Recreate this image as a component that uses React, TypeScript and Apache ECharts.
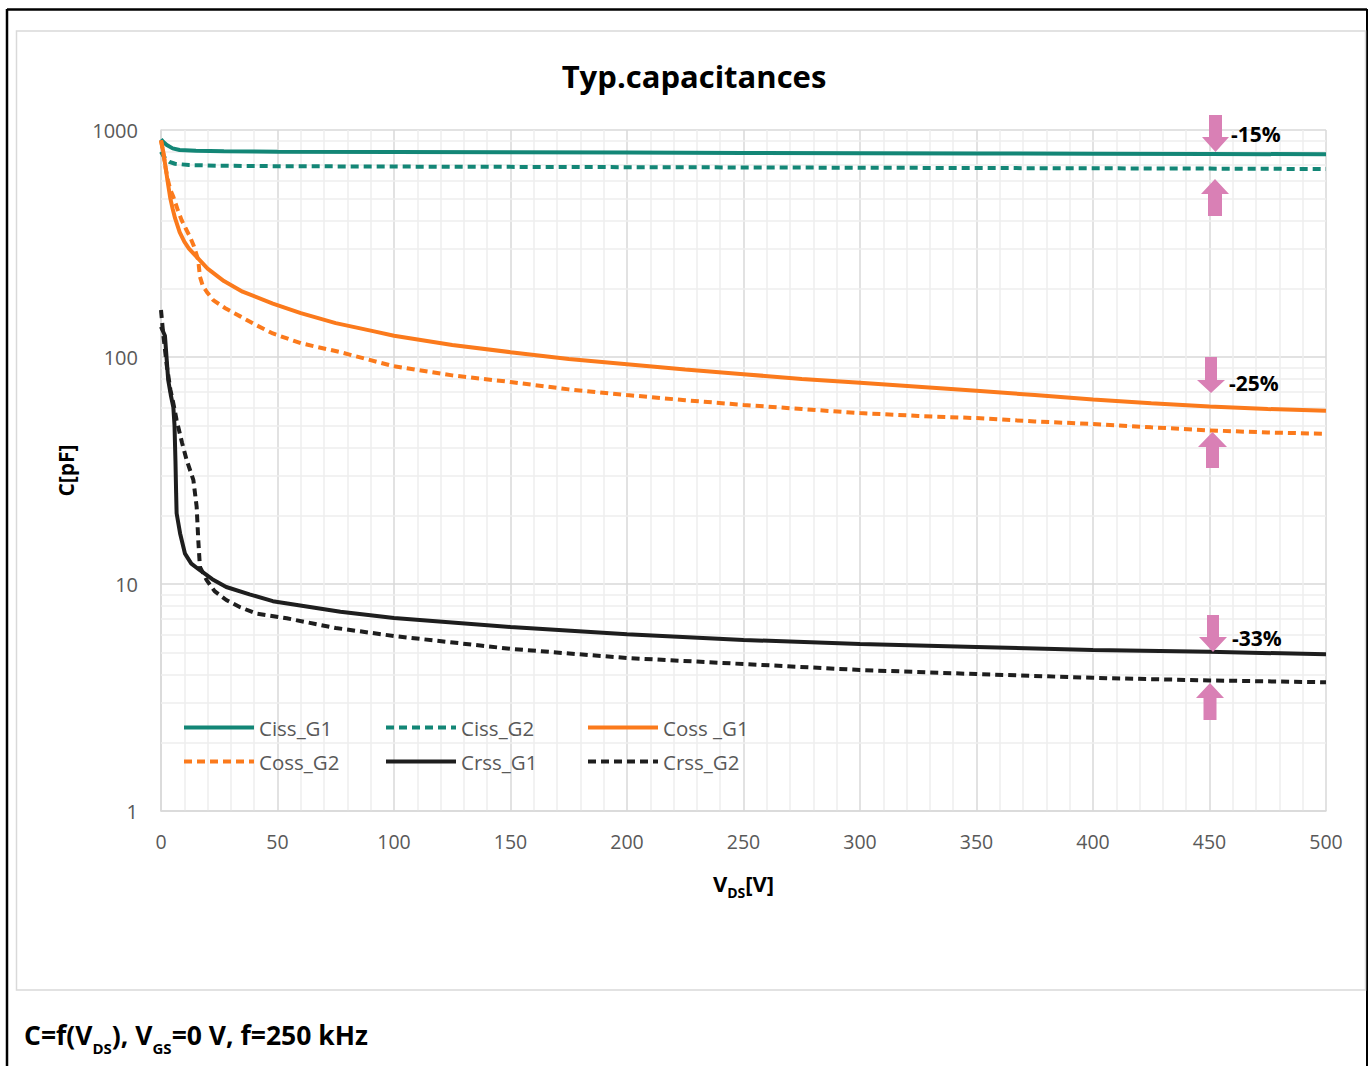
import React, { useEffect, useRef } from "react";
import * as echarts from "echarts";

// ---- data ----
const CISS_G1_V = [0, 1, 2.5, 5, 8, 15, 27, 50, 100, 150, 200, 250, 300, 350, 400, 450, 500];
const CISS_G1_C = [910, 885, 858, 830, 816, 810, 806, 803, 800, 797, 795, 792, 790, 788, 786, 784, 782];

const CISS_G2_V = [0, 1, 2, 3.6, 6, 12, 25, 48, 100, 150, 200, 250, 300, 350, 400, 450, 500];
const CISS_G2_C = [802, 770, 745, 724, 710, 701, 696, 693, 690, 688, 686, 684, 682, 680, 678, 676, 673];

const COSS_G1_V = [0, 1, 2, 3, 4, 5, 6, 8, 10, 12, 15, 20, 27, 35, 48, 60, 75, 91, 100, 125, 150, 175, 200, 225, 250, 275, 300, 325, 350, 375, 400, 425, 450, 475, 500];
const COSS_G1_C = [900, 800, 680, 580, 500, 450, 410, 355, 322, 300, 278, 245, 216, 194, 172, 156, 141, 130, 124, 113, 105, 98, 93, 88, 84, 80, 77, 74, 71, 68, 65, 62.5, 60.5, 59, 58];

const COSS_G2_V = [0, 1, 2, 3, 4, 5.3, 7, 8.8, 10.5, 12.4, 14, 16, 16.7, 18, 19.6, 22.4, 28, 34, 41, 48, 60, 77, 100, 125, 150, 175, 200, 225, 250, 275, 300, 325, 350, 375, 400, 425, 450, 475, 500];
const COSS_G2_C = [900, 790, 680, 600, 545, 508, 450, 402, 370, 339, 310, 267, 226, 205, 194, 178, 163, 151, 138, 127, 115, 105, 91, 83, 77.6, 72, 68, 64.5, 61.5, 59, 56.6, 55, 53.8, 52, 50.7, 49, 47.5, 46.5, 45.9];

const CRSS_G1_V = [0, 1.7, 3.1, 4.2, 5.3, 5.8, 6.2, 6.5, 6.7, 8.2, 10.3, 13, 16.7, 22, 28, 38, 48, 77, 100, 150, 200, 250, 300, 350, 400, 450, 500];
const CRSS_G1_C = [136, 124, 79, 68, 60, 50, 35, 25, 20.5, 16.7, 13.6, 12.3, 11.5, 10.5, 9.7, 9.0, 8.4, 7.55, 7.08, 6.47, 6.0, 5.67, 5.44, 5.28, 5.12, 5.03, 4.9];

const CRSS_G2_V = [0, 1, 2.4, 4, 5.3, 6.7, 9, 11, 13.9, 15.3, 16, 16.7, 19.6, 23, 28, 34, 41, 54, 75, 100, 150, 200, 250, 300, 350, 400, 450, 500];
const CRSS_G2_C = [161, 125, 93, 72, 62.5, 52.7, 42, 35.2, 28.7, 21.9, 15.6, 11.9, 10.4, 9.3, 8.5, 7.9, 7.4, 7.06, 6.4, 5.9, 5.18, 4.72, 4.44, 4.18, 4.01, 3.86, 3.76, 3.69];

const X_TICKS_INTERVAL = 50;
const Y_MINOR = [2, 3, 4, 5, 6, 7, 8, 9, 20, 30, 40, 50, 60, 70, 80, 90, 200, 300, 400, 500, 600, 700, 800, 900];

const NAMES = ["Ciss_G1", "Ciss_G2", "Coss _G1", "Coss_G2", "Crss_G1", "Crss_G2"];

const TEAL = "#138676";
const ORANGE = "#FB7A1C";
const BLACK = "#1E1E1E";
const PINK = "#D980B5";
const FONT = "'Open Sans', 'Noto Sans', sans-serif";

const zip = (xs: number[], ys: number[]) => xs.map((x, i) => [x, ys[i]]);

function downArrow(cx: number, top: number, base: number, tip: number, sw: number, hw: number) {
  return {
    type: "polygon",
    shape: {
      points: [
        [cx - sw / 2, top], [cx + sw / 2, top], [cx + sw / 2, base], [cx + hw / 2, base],
        [cx, tip], [cx - hw / 2, base], [cx - sw / 2, base],
      ],
    },
    style: { fill: PINK },
    z: 100,
  };
}
function upArrow(cx: number, tip: number, base: number, bottom: number, sw: number, hw: number) {
  return {
    type: "polygon",
    shape: {
      points: [
        [cx, tip], [cx + hw / 2, base], [cx + sw / 2, base], [cx + sw / 2, bottom],
        [cx - sw / 2, bottom], [cx - sw / 2, base], [cx - hw / 2, base],
      ],
    },
    style: { fill: PINK },
    z: 100,
  };
}
function pctText(x: number, y: number, t: string) {
  return {
    type: "text",
    x, y,
    style: { text: t, fill: "#000", font: `bold 21px ${FONT}`, textVerticalAlign: "middle", textAlign: "left" },
    z: 100,
  };
}

export default function App() {
  const ref = useRef<HTMLDivElement>(null);
  useEffect(() => {
    if (!ref.current) return;
    const chart = echarts.init(ref.current, undefined, { renderer: "svg" });

    const mk = (name: string, data: number[][], color: string, dashed: boolean) => ({
      name,
      type: "line",
      data,
      symbol: "none",
      showSymbol: false,
      smooth: false,
      z: 3,
      lineStyle: { color, width: 4, type: dashed ? [8, 5] : "solid" },
      itemStyle: { color },
    });

    const legendPos = [
      [182, 717], [384, 717], [586, 717],
      [182, 751], [384, 751], [586, 751],
    ];

    chart.setOption({
      animation: false,
      backgroundColor: "#fff",
      grid: { left: 161, right: 44, top: 130, bottom: 255, containLabel: false },
      legend: NAMES.map((n, i) => ({
        data: [n],
        left: legendPos[i][0],
        top: legendPos[i][1],
        padding: 0,
        itemWidth: 70,
        itemHeight: 14,
        selectedMode: false,
        itemStyle: { opacity: 0 },
        lineStyle: { width: 4 },
        textStyle: { fontSize: 20.5, color: "#595959", fontFamily: FONT },
      })),
      xAxis: {
        type: "value",
        min: 0,
        max: 500,
        interval: X_TICKS_INTERVAL,
        name: "{b|V}{s|DS}{b|[V]}",
        nameLocation: "middle",
        nameGap: 56,
        nameTextStyle: {
          rich: {
            b: { fontSize: 22, fontWeight: "bold", color: "#000", fontFamily: FONT },
            s: { fontSize: 14, fontWeight: "bold", color: "#000", fontFamily: FONT, padding: [18, 0, 0, 0] },
          },
        },
        axisLine: { show: true, lineStyle: { color: "#d9d9d9", width: 1.5 } },
        axisTick: { show: false },
        axisLabel: { fontSize: 19.5, color: "#595959", margin: 20, fontFamily: FONT },
        splitLine: { show: true, lineStyle: { color: "#d9d9d9", width: 1.5 } },
        minorTick: { show: false, splitNumber: 5 },
        minorSplitLine: { show: true, lineStyle: { color: "#eeeeee", width: 1.5 } },
      },
      yAxis: {
        type: "log",
        logBase: 10,
        min: 1,
        max: 1000,
        name: "C[pF]",
        nameLocation: "middle",
        nameGap: 85,
        nameTextStyle: { fontSize: 21, fontWeight: "bold", color: "#000", fontFamily: FONT },
        axisLine: { show: true, lineStyle: { color: "#d9d9d9", width: 1.5 } },
        axisTick: { show: false },
        axisLabel: { fontSize: 20, color: "#595959", margin: 23, fontFamily: FONT, formatter: (v: number) => String(Math.round(v)) },
        splitLine: { show: true, lineStyle: { color: "#d9d9d9", width: 1.5 } },
      },
      series: [
        {
          name: "minor",
          type: "line",
          data: [],
          z: 1,
          silent: true,
          markLine: {
            silent: true,
            z: 1,
            symbol: ["none", "none"],
            label: { show: false },
            lineStyle: { color: "#eeeeee", type: "solid", width: 1.5 },
            data: Y_MINOR.map((v) => ({ yAxis: v })),
          },
        },
        mk(NAMES[0], zip(CISS_G1_V, CISS_G1_C), TEAL, false),
        mk(NAMES[1], zip(CISS_G2_V, CISS_G2_C), TEAL, true),
        mk(NAMES[2], zip(COSS_G1_V, COSS_G1_C), ORANGE, false),
        mk(NAMES[3], zip(COSS_G2_V, COSS_G2_C), ORANGE, true),
        mk(NAMES[4], zip(CRSS_G1_V, CRSS_G1_C), BLACK, false),
        mk(NAMES[5], zip(CRSS_G2_V, CRSS_G2_C), BLACK, true),
      ],
      graphic: [
        // outer black frame
        { type: "line", shape: { x1: 7, y1: 9.5, x2: 1367, y2: 9.5 }, style: { stroke: "#000", lineWidth: 2.5 }, z: 0 },
        { type: "line", shape: { x1: 7, y1: 9, x2: 7, y2: 1066 }, style: { stroke: "#000", lineWidth: 2.5 }, z: 0 },
        { type: "line", shape: { x1: 1367, y1: 9, x2: 1367, y2: 1066 }, style: { stroke: "#000", lineWidth: 2 }, z: 0 },
        // inner chart area border
        { type: "rect", shape: { x: 16.5, y: 31, width: 1349, height: 959 }, style: { fill: "none", stroke: "#d9d9d9", lineWidth: 1.5 }, z: 0 },
        // title
        {
          type: "text", x: 694, y: 76,
          style: { text: "Typ.capacitances", fill: "#000", font: `bold 31px ${FONT}`, textAlign: "center", textVerticalAlign: "middle" },
        },
        // footnote
        {
          type: "text", x: 24, y: 1035,
          style: {
            text: "{b|C=f(V}{s|DS}{b|), V}{s|GS}{b|=0 V, f=250 kHz}",
            textVerticalAlign: "middle",
            rich: {
              b: { font: `bold 26.5px ${FONT}`, fill: "#000" },
              s: { font: `bold 15px ${FONT}`, fill: "#000", padding: [26, 0, 0, 0] },
            },
          },
        },
        // arrows & percent labels
        downArrow(1215.5, 115, 137, 152, 13, 27),
        upArrow(1215, 179, 194, 216, 14, 28),
        pctText(1231, 134, "-15%"),
        downArrow(1211, 357, 380, 393, 12, 28),
        upArrow(1212.5, 432, 447, 468, 13, 29),
        pctText(1229, 383, "-25%"),
        downArrow(1213, 615, 637, 652, 12, 28),
        upArrow(1210, 683, 698, 720, 13, 28),
        pctText(1232, 638, "-33%"),
      ],
    });
    return () => chart.dispose();
  }, []);
  return <div ref={ref} style={{ position: "fixed", left: 0, top: 0, width: 1370, height: 1066 }} />;
}
